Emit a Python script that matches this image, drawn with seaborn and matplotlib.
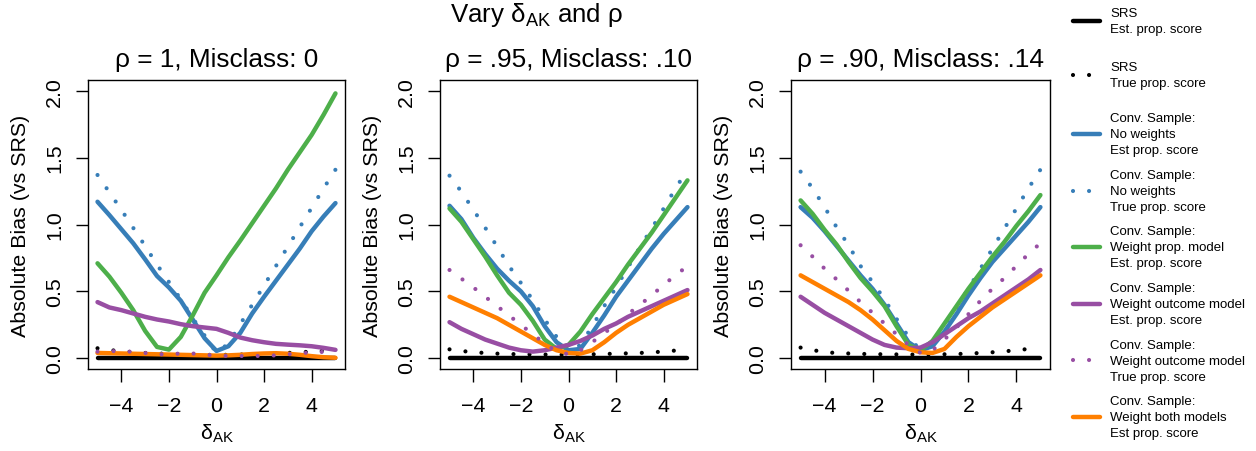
import matplotlib
matplotlib.use("Agg")
import matplotlib.pyplot as plt
import seaborn as sns

# ---------------- data ----------------
delta_ak = [-5.0, -4.5, -4.0, -3.5, -3.0, -2.5, -2.0, -1.5, -1.0, -0.5, 0.0,
            0.5, 1.0, 1.5, 2.0, 2.5, 3.0, 3.5, 4.0, 4.5, 5.0]

panel_titles = ["ρ = 1, Misclass: 0", "ρ = .95, Misclass: .10", "ρ = .90, Misclass: .14"]

# Panel 1: rho = 1
srs_est_p1 = [0, 0, 0, 0, 0, 0, 0, 0, 0, 0, 0, 0, 0, 0, 0, 0, 0, 0, 0, 0, 0]
srs_true_p1 = [0.075, 0.062, 0.052, 0.046, 0.040, 0.036, 0.032, 0.030, 0.028, 0.026, 0.025,
               0.026, 0.028, 0.030, 0.032, 0.035, 0.040, 0.045, 0.050, 0.056, 0.062]
nowt_est_p1 = [1.17, 1.07, 0.965, 0.86, 0.74, 0.615, 0.53, 0.43, 0.29, 0.15, 0.055,
               0.09, 0.19, 0.335, 0.46, 0.58, 0.70, 0.82, 0.95, 1.06, 1.16]
nowt_true_p1 = [1.37, 1.24, 1.11, 0.975, 0.84, 0.70, 0.57, 0.44, 0.30, 0.17, 0.04,
                0.11, 0.255, 0.40, 0.545, 0.69, 0.835, 0.98, 1.125, 1.27, 1.41]
wprop_est_p1 = [0.71, 0.61, 0.49, 0.36, 0.205, 0.085, 0.065, 0.16, 0.32, 0.49, 0.62,
                0.755, 0.88, 1.01, 1.14, 1.27, 1.41, 1.54, 1.67, 1.82, 1.98]
wout_est_p1 = [0.42, 0.38, 0.36, 0.335, 0.31, 0.29, 0.275, 0.255, 0.24, 0.23, 0.22,
               0.19, 0.155, 0.135, 0.12, 0.108, 0.102, 0.097, 0.09, 0.078, 0.063]
wout_true_p1 = [0.05, 0.054, 0.053, 0.048, 0.04, 0.03, 0.03, 0.036, 0.036, 0.027, 0.02,
                0.017, 0.017, 0.017, 0.018, 0.022, 0.03, 0.038, 0.044, 0.048, 0.05]
wboth_est_p1 = [0.04, 0.038, 0.036, 0.034, 0.032, 0.03, 0.028, 0.026, 0.024, 0.022, 0.02,
                0.022, 0.026, 0.032, 0.036, 0.038, 0.034, 0.026, 0.016, 0.008, 0.004]

# Panel 2: rho = .95
srs_est_p2 = [0, 0, 0, 0, 0, 0, 0, 0, 0, 0, 0, 0, 0, 0, 0, 0, 0, 0, 0, 0, 0]
srs_true_p2 = [0.067, 0.055, 0.045, 0.040, 0.035, 0.032, 0.030, 0.029, 0.028, 0.027, 0.027,
               0.028, 0.030, 0.032, 0.035, 0.037, 0.040, 0.045, 0.050, 0.058, 0.065]
nowt_est_p2 = [1.14, 1.04, 0.90, 0.78, 0.67, 0.58, 0.50, 0.39, 0.24, 0.12, 0.06,
               0.07, 0.19, 0.32, 0.46, 0.58, 0.70, 0.82, 0.93, 1.03, 1.13]
nowt_true_p2 = [1.365, 1.245, 1.11, 0.976, 0.835, 0.69, 0.563, 0.435, 0.29, 0.16, 0.05,
                0.10, 0.24, 0.39, 0.53, 0.68, 0.83, 0.97, 1.12, 1.27, 1.41]
wprop_est_p2 = [1.12, 1.02, 0.89, 0.76, 0.62, 0.49, 0.40, 0.28, 0.14, 0.07, 0.10,
                0.20, 0.33, 0.45, 0.57, 0.70, 0.82, 0.94, 1.07, 1.20, 1.33]
wout_est_p2 = [0.27, 0.22, 0.18, 0.14, 0.11, 0.08, 0.06, 0.05, 0.06, 0.08, 0.10,
               0.13, 0.17, 0.22, 0.26, 0.31, 0.35, 0.39, 0.43, 0.47, 0.51]
wout_true_p2 = [0.66, 0.595, 0.53, 0.46, 0.39, 0.32, 0.25, 0.18, 0.11, 0.05, 0.03,
                0.06, 0.12, 0.19, 0.25, 0.33, 0.40, 0.47, 0.55, 0.62, 0.69]
wboth_est_p2 = [0.46, 0.42, 0.38, 0.34, 0.30, 0.25, 0.20, 0.15, 0.10, 0.06, 0.04,
                0.035, 0.06, 0.12, 0.19, 0.25, 0.30, 0.35, 0.40, 0.44, 0.48]

# Panel 3: rho = .90
srs_est_p3 = [0, 0, 0, 0, 0, 0, 0, 0, 0, 0, 0, 0, 0, 0, 0, 0, 0, 0, 0, 0, 0]
srs_true_p3 = [0.080, 0.062, 0.045, 0.040, 0.036, 0.033, 0.031, 0.030, 0.029, 0.028, 0.028,
               0.029, 0.030, 0.032, 0.035, 0.040, 0.045, 0.052, 0.060, 0.070, 0.078]
nowt_est_p3 = [1.13, 1.05, 0.95, 0.84, 0.73, 0.62, 0.52, 0.40, 0.26, 0.12, 0.06,
               0.09, 0.20, 0.33, 0.47, 0.60, 0.72, 0.82, 0.92, 1.02, 1.13]
nowt_true_p3 = [1.395, 1.27, 1.13, 0.98, 0.845, 0.69, 0.57, 0.44, 0.295, 0.16, 0.06,
                0.11, 0.25, 0.38, 0.52, 0.67, 0.82, 0.97, 1.12, 1.27, 1.41]
wprop_est_p3 = [1.18, 1.08, 0.96, 0.85, 0.72, 0.60, 0.50, 0.39, 0.24, 0.10, 0.06,
                0.13, 0.26, 0.39, 0.52, 0.64, 0.76, 0.87, 0.99, 1.10, 1.22]
wout_est_p3 = [0.46, 0.40, 0.34, 0.29, 0.24, 0.19, 0.14, 0.10, 0.08, 0.075, 0.08,
               0.12, 0.18, 0.24, 0.30, 0.35, 0.41, 0.47, 0.53, 0.59, 0.66]
wout_true_p3 = [0.845, 0.76, 0.67, 0.59, 0.505, 0.42, 0.34, 0.26, 0.18, 0.10, 0.04,
                0.06, 0.14, 0.23, 0.33, 0.43, 0.52, 0.60, 0.69, 0.78, 0.86]
wboth_est_p3 = [0.62, 0.57, 0.52, 0.47, 0.42, 0.36, 0.29, 0.21, 0.13, 0.07, 0.045,
                0.04, 0.07, 0.16, 0.24, 0.31, 0.38, 0.44, 0.50, 0.56, 0.62]

series_labels = [
    "SRS\nEst. prop. score",
    "SRS\nTrue prop. score",
    "Conv. Sample:\nNo weights\nEst prop. score",
    "Conv. Sample:\nNo weights\nTrue prop. score",
    "Conv. Sample:\nWeight prop. model\nEst. prop. score",
    "Conv. Sample:\nWeight outcome model\nEst. prop. score",
    "Conv. Sample:\nWeight outcome model\nTrue prop. score",
    "Conv. Sample:\nWeight both models\nEst prop. score",
]

panels = [
    [srs_est_p1, srs_true_p1, nowt_est_p1, nowt_true_p1, wprop_est_p1, wout_est_p1, wout_true_p1, wboth_est_p1],
    [srs_est_p2, srs_true_p2, nowt_est_p2, nowt_true_p2, wprop_est_p2, wout_est_p2, wout_true_p2, wboth_est_p2],
    [srs_est_p3, srs_true_p3, nowt_est_p3, nowt_true_p3, wprop_est_p3, wout_est_p3, wout_true_p3, wboth_est_p3],
]

# ---------------- style ----------------
sns.set_style("ticks")
plt.rcParams["font.family"] = ["Liberation Sans", "DejaVu Sans"]
plt.rcParams["mathtext.fontset"] = "custom"
plt.rcParams["mathtext.rm"] = "Liberation Sans"
plt.rcParams["mathtext.it"] = "Liberation Sans:italic"
plt.rcParams["mathtext.bf"] = "Liberation Sans:bold"
for k in ["text.color", "axes.labelcolor", "xtick.color", "ytick.color", "axes.edgecolor"]:
    plt.rcParams[k] = "black"

BLACK = "#000000"
BLUE = "#377EB8"
GREEN = "#4DAF4A"
PURPLE = "#984EA3"
ORANGE = "#FF7F00"

LW_SOLID = 3.2
LW_DOT = 3.0
DOTTED = (0, (0.001, 3.85))

styles = [
    dict(color=BLACK, lw=LW_SOLID, ls="-", z=2.0),
    dict(color=BLACK, lw=LW_DOT, ls=DOTTED, z=2.1),
    dict(color=BLUE, lw=LW_SOLID, ls="-", z=2.2),
    dict(color=BLUE, lw=LW_DOT, ls=DOTTED, z=2.3),
    dict(color=GREEN, lw=LW_SOLID, ls="-", z=2.4),
    dict(color=PURPLE, lw=LW_SOLID, ls="-", z=2.5),
    dict(color=PURPLE, lw=LW_DOT, ls=DOTTED, z=2.7),
    dict(color=ORANGE, lw=LW_SOLID, ls="-", z=2.6),
]

W, H = 1256, 452
fig = plt.figure(figsize=(W / 100, H / 100), dpi=100)

lefts = [88, 440, 791]
widths = [257, 257, 259]
top_px, bot_px = 81, 370

TICK_FS = 15.4
TITLE_FS = 18.6
PANEL_TITLE_FS = 18.9
axes = []
for i, (lp, wp) in enumerate(zip(lefts, widths)):
    ax = fig.add_axes([lp / W, (H - bot_px) / H, wp / W, (bot_px - top_px) / H])
    axes.append(ax)
    for vals, lab, st in zip(panels[i], series_labels, styles):
        sns.lineplot(x=delta_ak, y=vals, ax=ax, color=st["color"], linewidth=st["lw"],
                     linestyle=st["ls"], solid_capstyle="round", dash_capstyle="round",
                     label=lab, zorder=st["z"], legend=False)
    leg = ax.get_legend()
    if leg is not None:
        leg.remove()
    ax.set_xlim(-5.4, 5.4)
    ax.set_ylim(-0.08, 2.08)
    ax.set_xticks([-4, -2, 0, 2, 4])
    ax.set_xticklabels(["\u22124", "\u22122", "0", "2", "4"])
    ax.set_yticks([0, 0.5, 1.0, 1.5, 2.0])
    ax.set_yticklabels(["0.0", "0.5", "1.0", "1.5", "2.0"])
    for sp in ax.spines.values():
        sp.set_visible(True)
        sp.set_color("black")
        sp.set_linewidth(1.0)
    ax.tick_params(axis="both", direction="out", length=9, width=1.0, colors="black",
                   labelsize=TICK_FS, top=False, right=False)
    ax.tick_params(axis="x", pad=10.8)
    ax.tick_params(axis="y", pad=8.3)
    for t in ax.get_yticklabels():
        t.set_rotation(90)
        t.set_verticalalignment("center")
        t.set_horizontalalignment("right")
    ax.set_title(panel_titles[i], fontsize=PANEL_TITLE_FS, pad=10, color="black")
    ax.set_xlabel("δ$_{\\mathregular{AK}}$", fontsize=TICK_FS)
    ax.set_ylabel("Absolute Bias (vs SRS)", fontsize=TICK_FS)
    ax.xaxis.set_label_coords(0.5, -(423 - bot_px) / (bot_px - top_px))
    ax.yaxis.set_label_coords(-(88 - 30) / wp, 0.5)
    ax.grid(False)

fig.text(537 / W, 1 - 22 / H, "Vary δ$_{\\mathregular{AK}}$ and ρ", ha="center",
         va="baseline", fontsize=TITLE_FS, color="black")

handles, labels = axes[0].get_legend_handles_labels()
LEG_KW = dict(loc="upper left", frameon=False, fontsize=9.5, borderpad=0, borderaxespad=0,
              handlelength=2.05, handletextpad=0.75)
leg_a = fig.legend(handles[:2], labels[:2], bbox_to_anchor=(1073 / W, 1 - 8 / H),
                   labelspacing=1.95, **LEG_KW)
leg_b = fig.legend(handles[2:], labels[2:], bbox_to_anchor=(1073 / W, 1 - 113 / H),
                   labelspacing=0.95, **LEG_KW)
for lg in (leg_a, leg_b):
    for t in lg.get_texts():
        t.set_linespacing(1.45)
        t.set_color("black")

fig.savefig("out.png", dpi=100)
